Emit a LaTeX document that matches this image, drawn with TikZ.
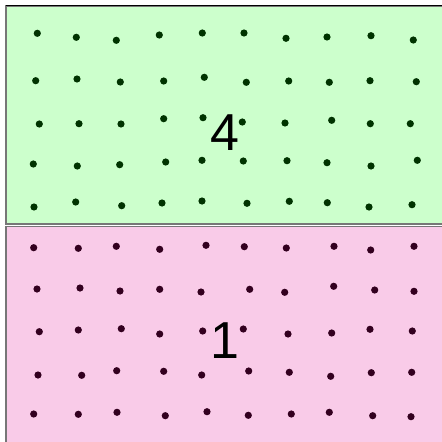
\documentclass[tikz,border=0pt]{standalone}
\usepackage{fontspec}
\setmainfont{Liberation Sans}
\definecolor{greenfill}{HTML}{CCFFCC}
\definecolor{pinkfill}{HTML}{F9CBE8}
\definecolor{greendot}{HTML}{003300}
\definecolor{pinkdot}{HTML}{33001F}
\definecolor{edgegray}{HTML}{777777}
\begin{document}
\begin{tikzpicture}[x=1pt,y=-1pt,
  region/.style={draw=edgegray,line width=1.5pt},
  gdot/.style={fill=greendot},
  pdot/.style={fill=pinkdot},
  label/.style={font=\fontsize{52}{52}\selectfont,inner sep=0pt,anchor=base}]
\useasboundingbox (0,0) rectangle (442,442);
\fill[white] (0,0) rectangle (442,442);
% regions
\path[region,fill=greenfill] (5.8,5.8) rectangle (446,224.2);
\draw[black,line width=1pt] (5.8,5.8) -- (446,5.8);
\path[region,fill=pinkfill] (5.8,226.6) rectangle (446,446);
% green dots
\foreach \x/\y in {37.3/33.3,76.3/37.3,116.3/40.3,159.3/35,202.3/33,
  35.7/80.7,77/79,120.3/82,163.7/81,204.3/77.3,
  39.3/124,79/123.7,121/124,163.7/118.7,203/117.7,
  33.3/164,77.3/166,119.7/164.7,165.7/162,202/160.3,
  34/207,75.7/202,121.7/205.7,162/203,202/201,
  244/33,286/38.3,327/37,371/35.7,413.3/40,
  246.3/82.3,288.7/81,329.3/82.3,370/80.7,416.3/81.7,
  242.3/122,285/123,331.7/120.3,370.3/123.7,410.3/123.7,
  243.3/161,287/160.7,327/162.7,371/166,417.3/160.3,
  247/203.3,289.3/201.3,327.3/202.7,369/207,412/204.7}
  \fill[gdot] (\x,\y) circle [radius=3.6pt];
% pink dots
\foreach \x/\y in {33.7/247.7,78.3/248.3,116.3/246.3,159.7/249.3,206/245.3,
  37/289,80/288,120/291,159.7/289.3,201/292,
  39.3/331.7,78.3/330,121.3/328.7,159.7/334,202.7/331,
  38/375,81.7/375.3,116.7/370.7,163.7/371.3,201.7/375,
  33.7/414,78.3/414.3,117/412.3,165.3/415.7,207/411.7,
  244.3/246.7,286.3/248,334/246.3,370.7/250,414/246.3,
  249.7/289.3,284.7/292.3,333.7/286.3,374.7/290,414/291.3,
  243.3/329,288/334,331.7/333,370/329.3,412.3/331,
  248.7/371,289.3/372.3,330.7/376.3,371.3/372.7,411.7/372.3,
  248.3/415.3,291.3/414,329.3/412.3,372.7/415.7,411/416.7}
  \fill[pdot] (\x,\y) circle [radius=3.6pt];
% labels
\node[label] (four) at (225,150) {4};
\node[label] (one) at (224.5,358.3) {1};
\end{tikzpicture}
\end{document}
